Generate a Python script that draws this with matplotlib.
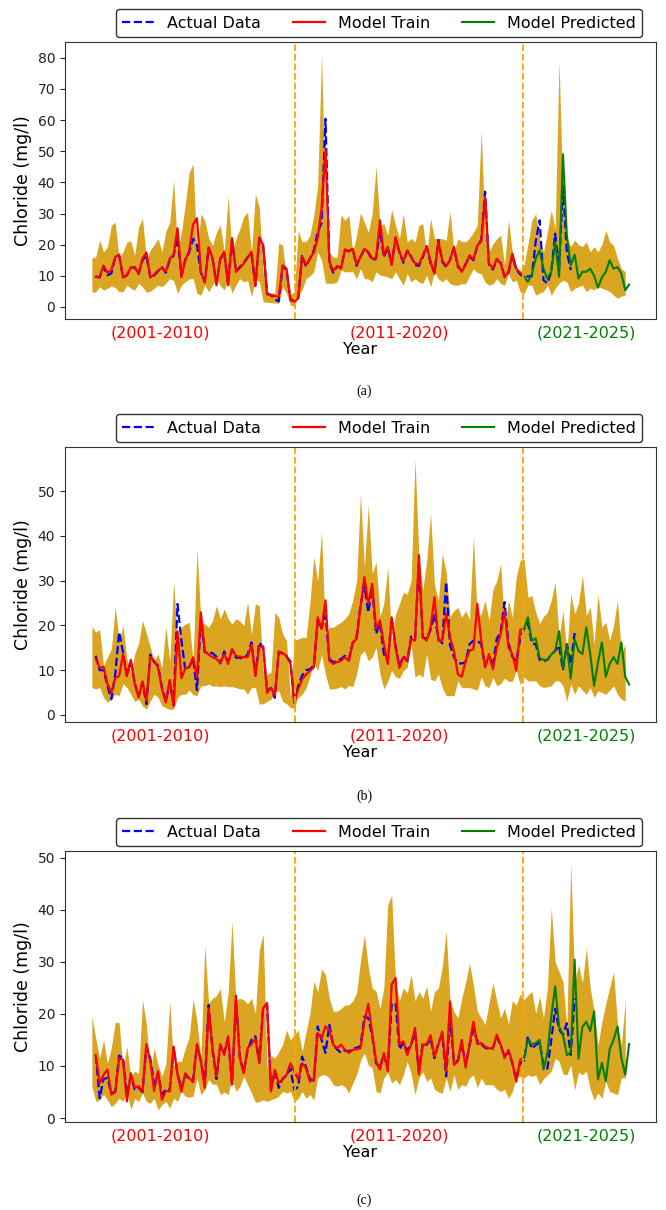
import numpy as np
import matplotlib
matplotlib.use("Agg")
import matplotlib.pyplot as plt

# ---- Panel (a) ----
actual_a = [9.7, 9.5, 12.8, 10.2, 10.8, 15.8, 16.5, 9.6, 10.2, 12.5, 12.8, 10.6, 15.0, 16.5, 9.5, 10.1, 11.5, 12.8, 11.0, 15.0,
            16.5, 22.5, 10.0, 15.2, 17.5, 21.9, 19.8, 11.0, 8.2, 19.0, 15.4, 7.5, 15.5, 17.2, 7.4, 21.5, 11.6, 12.8, 14.2, 16.0,
            17.0, 7.0, 21.5, 19.5, 4.4, 3.8, 2.5, 1.8, 13.0, 12.0, 2.5, 1.9, 2.8, 16.6, 13.0, 15.5, 18.2, 24.0, 27.0, 60.4,
            14.0, 11.0, 13.0, 12.7, 18.0, 18.0, 18.5, 13.2, 16.2, 18.5, 17.5, 15.0, 15.5, 24.5, 16.0, 19.0, 13.8, 22.0, 17.5, 14.2,
            18.0, 16.2, 13.5, 13.2, 16.0, 19.5, 14.0, 11.0, 21.5, 14.5, 12.8, 15.2, 19.0, 13.0, 11.6, 13.8, 16.2, 15.0, 19.5, 21.5,
            37.0, 13.5, 12.0, 15.0, 14.2, 9.8, 11.0, 16.6, 12.0, 10.5, 9.6, 9.8, 9.9, 21.0, 27.8, 8.6, 7.6, 11.3, 23.5, 12.3,
            38.9, 17.7, 11.9]
train_a = [9.7, 9.7, 13.3, 11.0, 11.8, 16.1, 16.8, 9.4, 10.2, 12.7, 12.6, 10.8, 15.5, 17.5, 9.6, 10.3, 11.8, 12.5, 11.4, 15.5,
           16.8, 25.3, 9.6, 15.0, 18.2, 26.5, 28.5, 11.3, 7.8, 19.1, 15.7, 7.0, 15.7, 17.7, 7.0, 22.1, 11.3, 12.5, 13.9, 15.8,
           17.7, 6.7, 22.4, 19.8, 4.0, 3.8, 3.5, 3.3, 13.4, 12.3, 2.2, 1.7, 2.8, 16.1, 13.4, 15.5, 17.5, 22.0, 31.5, 50.6,
           14.5, 11.6, 13.1, 12.3, 18.5, 17.7, 18.7, 13.6, 16.0, 18.7, 17.7, 15.5, 15.7, 27.8, 16.6, 19.3, 13.5, 22.4, 17.7, 14.7,
           18.2, 16.0, 14.0, 13.7, 16.5, 19.3, 14.5, 10.7, 21.1, 15.0, 13.1, 15.0, 19.3, 13.4, 11.3, 13.5, 16.6, 15.2, 19.8, 21.0,
           35.2, 14.0, 12.3, 15.5, 14.0, 9.5, 11.3, 17.1, 12.3, 11.0, 9.7]
pred_a = [9.7, 8.1, 10.5, 15.5, 18.2, 12.3, 9.1, 11.3, 20.9, 9.7, 49.0, 23.0, 13.4, 16.8, 9.1, 11.3, 11.3, 12.3, 10.0, 6.2,
          9.5, 11.3, 15.0, 12.3, 12.8, 10.7, 5.4, 7.2]
upper_a = [15.7, 16.1, 21.4, 17.7, 19.3, 26.2, 27.2, 15.5, 17.7, 20.9, 21.1, 16.6, 25.6, 28.5, 15.5, 18.2, 20.0, 21.9, 17.7, 24.3,
           27.2, 40.7, 17.7, 24.0, 33.0, 43.2, 45.9, 16.6, 29.9, 27.8, 22.0, 19.8, 24.0, 26.2, 17.7, 35.4, 17.7, 21.9, 25.0, 29.0,
           30.4, 17.7, 36.3, 32.0, 11.3, 4.5, 4.5, 4.5, 20.6, 19.8, 8.6, 4.0, 4.9, 24.6, 20.9, 21.0, 22.9, 29.4, 39.0, 81.0,
           30.0, 17.7, 16.0, 16.0, 29.6, 27.8, 29.4, 17.7, 23.0, 30.2, 27.2, 24.0, 30.0, 45.0, 26.2, 26.7, 23.0, 31.3, 26.2, 21.9,
           29.9, 20.9, 22.0, 20.9, 26.2, 26.7, 16.6, 28.3, 22.0, 22.0, 21.9, 21.4, 30.7, 17.7, 21.9, 21.0, 20.9, 22.1, 24.0, 26.2,
           56.5, 24.0, 17.7, 20.2, 21.9, 23.0, 13.5, 27.8, 17.7, 12.3, 11.3, 13.5, 20.0, 27.8, 29.9, 21.9, 17.7, 24.0, 31.0, 25.0,
           78.8, 35.0, 22.1, 19.4, 21.5, 20.0, 19.4, 20.9, 17.7, 19.4, 17.7, 20.0, 24.6, 20.9, 19.8, 15.5, 12.3, 11.3]
lower_a = [4.7, 4.9, 6.5, 5.4, 6.0, 6.8, 6.2, 4.9, 4.9, 7.0, 6.0, 5.4, 7.6, 6.5, 4.7, 5.1, 6.0, 7.0, 6.5, 7.6,
           9.1, 8.5, 4.4, 7.0, 8.1, 9.0, 9.1, 4.4, 3.8, 7.0, 4.9, 7.0, 9.1, 6.8, 5.5, 8.6, 4.5, 7.0, 9.1, 8.1,
           8.5, 3.3, 9.1, 8.1, 1.7, 1.5, 1.4, 1.3, 1.2, 6.5, 4.4, 0.6, 0.2, 3.3, 5.5, 9.1, 10.0, 11.3, 17.7, 15.0,
           7.6, 7.6, 7.6, 8.1, 11.8, 11.3, 11.3, 11.3, 9.1, 12.3, 9.1, 9.0, 8.1, 11.3, 10.2, 10.0, 9.6, 9.1, 11.3, 9.0,
           7.0, 10.7, 8.1, 9.1, 8.0, 7.6, 10.2, 6.5, 11.3, 9.0, 8.1, 9.1, 7.5, 7.0, 7.0, 7.5, 7.4, 10.0, 12.3, 11.0,
           10.7, 8.0, 7.0, 7.4, 9.1, 7.5, 7.0, 10.7, 8.1, 8.6, 4.9, 4.4, 7.0, 7.0, 3.8, 4.5, 4.9, 7.0, 3.8, 6.0,
           7.6, 8.6, 8.1, 4.9, 6.0, 6.5, 7.0, 4.9, 6.0, 5.5, 6.5, 6.0, 5.5, 5.0, 3.8, 2.8, 3.5, 3.8]

# ---- Panel (b) ----
actual_b = [13.2, 10.0, 10.0, 6.5, 3.5, 9.0, 18.5, 14.0, 8.7, 12.0, 7.2, 4.0, 7.3, 2.4, 13.5, 11.8, 11.0, 6.2, 3.0, 7.5,
            2.3, 24.8, 16.6, 10.0, 10.8, 12.5, 5.5, 21.5, 14.0, 14.0, 13.8, 13.0, 11.5, 14.2, 11.8, 14.5, 12.8, 12.8, 12.5, 13.5,
            16.2, 9.0, 16.2, 15.0, 5.5, 6.0, 3.8, 14.0, 13.8, 13.0, 12.0, 2.8, 6.5, 8.8, 10.0, 10.2, 11.0, 21.0, 19.5, 22.2,
            12.5, 11.8, 12.0, 12.5, 13.2, 12.4, 16.0, 17.5, 24.5, 28.9, 22.9, 28.5, 18.1, 20.5, 13.6, 12.0, 21.5, 15.5, 10.8, 13.2,
            12.0, 17.5, 17.0, 33.4, 17.3, 17.0, 19.0, 22.6, 17.0, 16.0, 29.7, 15.5, 12.9, 11.5, 11.5, 11.8, 15.8, 16.6, 16.6, 15.8,
            11.0, 13.2, 11.0, 17.0, 18.5, 25.2, 16.0, 13.0, 12.0, 17.0, 19.2, 20.5, 16.0, 15.8, 12.3, 12.0, 12.3, 13.5, 14.3, 15.5,
            10.0, 15.8, 11.4, 18.3]
train_b = [12.5, 10.6, 10.7, 7.0, 5.0, 8.2, 8.7, 13.5, 8.7, 12.3, 6.9, 3.9, 7.5, 3.1, 13.0, 12.1, 10.6, 5.8, 2.8, 7.8,
           2.0, 18.7, 8.2, 10.4, 10.6, 12.9, 8.2, 22.9, 14.3, 13.5, 12.9, 12.5, 11.7, 13.6, 11.4, 14.7, 13.2, 13.0, 12.9, 12.9,
           15.7, 8.7, 15.3, 15.3, 4.9, 6.1, 4.3, 14.2, 13.8, 13.2, 11.4, 2.9, 5.8, 8.0, 9.0, 9.9, 10.6, 21.8, 19.2, 25.6,
           12.1, 11.4, 11.8, 12.1, 12.9, 12.1, 16.2, 17.0, 24.0, 30.8, 24.8, 29.3, 19.2, 21.1, 15.8, 11.4, 21.8, 15.1, 10.5, 12.9,
           12.1, 17.0, 16.6, 35.7, 17.3, 16.6, 19.6, 26.3, 16.6, 16.6, 22.6, 17.3, 14.3, 9.1, 8.5, 12.1, 14.3, 14.7, 24.8, 16.6,
           10.6, 13.6, 10.2, 15.0, 18.1, 23.3, 15.1, 13.6, 9.9, 19.0, 19.2]
pred_b = [19.2, 21.8, 16.6, 17.1, 12.7, 12.3, 12.3, 13.5, 14.3, 18.7, 10.3, 15.8, 8.1, 16.9, 14.3, 13.6, 19.6, 13.6, 6.5, 11.7,
          16.2, 8.5, 11.4, 12.9, 11.4, 16.2, 8.5, 6.8]
upper_b = [19.7, 18.5, 19.1, 11.0, 12.9, 14.7, 24.1, 16.6, 20.0, 12.5, 9.5, 13.6, 16.0, 21.1, 18.2, 15.2, 12.0, 13.6, 10.5, 19.6,
           12.0, 29.8, 16.6, 19.6, 20.3, 20.7, 12.0, 37.1, 21.1, 20.3, 19.6, 21.1, 24.4, 21.5, 23.7, 21.5, 20.3, 21.5, 21.0, 20.0,
           25.2, 18.0, 24.8, 24.4, 9.9, 9.1, 9.5, 22.9, 21.8, 18.1, 16.6, 3.9, 16.6, 17.0, 17.3, 17.3, 25.0, 35.3, 30.0, 40.9,
           18.0, 19.6, 19.6, 20.2, 20.7, 21.5, 22.6, 25.6, 30.0, 49.5, 33.0, 46.9, 31.5, 34.2, 22.0, 25.0, 33.0, 16.6, 22.6, 24.8,
           27.4, 27.0, 30.0, 57.1, 35.3, 28.0, 34.5, 45.1, 29.0, 25.6, 36.0, 32.0, 22.0, 23.3, 24.0, 21.8, 23.3, 21.3, 39.8, 21.8,
           22.6, 25.6, 21.1, 28.0, 30.0, 33.8, 19.6, 25.6, 21.8, 30.8, 34.5, 34.9, 26.3, 26.7, 23.0, 20.4, 22.0, 22.9, 25.6, 29.7,
           17.3, 23.3, 13.6, 27.1, 22.6, 25.0, 31.2, 22.2, 24.1, 15.8, 26.9, 19.6, 20.7, 16.6, 20.0, 25.7, 13.6, 15.8]
lower_b = [6.1, 5.8, 6.1, 3.9, 2.8, 3.5, 4.6, 4.3, 7.0, 6.1, 4.6, 3.0, 3.5, 2.0, 1.3, 3.1, 4.6, 3.9, 2.0, 1.6,
           1.2, 1.3, 3.9, 4.6, 4.6, 5.5, 4.5, 4.3, 6.5, 6.5, 6.9, 6.4, 6.5, 6.3, 6.5, 6.3, 6.3, 6.1, 5.8, 5.8,
           4.6, 6.1, 6.1, 2.4, 2.5, 3.0, 3.5, 5.0, 5.4, 3.0, 2.5, 1.6, 1.6, 3.9, 4.6, 6.0, 8.5, 11.7, 9.9, 13.5,
           9.1, 5.8, 5.8, 6.0, 6.3, 5.8, 6.6, 6.3, 9.1, 13.5, 14.3, 12.1, 12.9, 15.1, 9.1, 5.8, 7.5, 9.9, 8.5, 8.2,
           9.9, 10.6, 15.8, 8.4, 9.1, 8.4, 13.6, 8.0, 7.6, 9.1, 6.1, 4.3, 4.3, 4.3, 7.6, 6.1, 6.1, 6.1, 5.8, 5.5,
           8.5, 6.5, 6.1, 8.4, 6.5, 7.0, 8.2, 7.5, 7.5, 9.9, 6.8, 8.4, 7.6, 7.6, 7.6, 6.5, 6.1, 6.3, 6.5, 7.6,
           7.6, 6.5, 3.1, 6.9, 4.6, 6.5, 5.5, 4.6, 6.1, 3.9, 5.4, 5.0, 4.6, 5.5, 6.5, 4.6, 3.5, 3.1]

# ---- Panel (c) ----
actual_c = [12.0, 3.8, 7.5, 7.7, 4.8, 5.0, 12.0, 11.5, 4.5, 8.0, 5.5, 5.8, 5.0, 13.5, 11.5, 6.5, 8.5, 4.5, 5.5, 5.5,
            13.5, 8.5, 5.8, 8.3, 7.5, 7.2, 14.0, 11.0, 6.5, 21.7, 13.0, 7.5, 14.0, 12.5, 15.5, 6.5, 22.5, 11.8, 8.8, 13.0,
            15.0, 15.7, 10.8, 21.3, 21.7, 5.5, 9.0, 5.8, 7.6, 8.2, 9.5, 5.4, 6.0, 11.8, 9.8, 7.5, 7.2, 17.6, 15.0, 12.5,
            17.9, 14.0, 13.2, 12.5, 13.0, 12.8, 13.3, 13.5, 13.8, 19.5, 19.2, 15.8, 10.5, 9.8, 12.2, 9.5, 21.7, 22.1, 13.2, 14.5,
            13.0, 14.0, 16.5, 9.0, 14.5, 14.0, 15.2, 11.5, 14.5, 16.0, 8.0, 19.2, 10.8, 11.0, 14.2, 10.2, 14.0, 17.0, 14.8, 14.2,
            13.5, 13.2, 13.5, 15.5, 14.0, 11.8, 12.8, 10.5, 7.5, 10.5, 11.0, 15.7, 13.3, 14.0, 14.5, 10.2, 9.5, 15.0, 21.0, 17.0,
            16.0, 18.2, 12.1, 23.0]
train_c = [12.1, 6.7, 8.3, 9.3, 4.5, 5.0, 11.5, 11.2, 3.2, 8.6, 5.8, 6.1, 5.1, 14.2, 10.9, 5.2, 9.0, 3.5, 5.2, 5.1,
           13.7, 8.3, 5.1, 8.6, 7.7, 6.9, 14.2, 10.9, 5.8, 21.1, 13.4, 8.0, 14.2, 12.1, 15.7, 6.4, 23.5, 11.5, 8.6, 13.4,
           14.2, 15.2, 10.5, 21.1, 22.1, 5.1, 9.3, 6.7, 7.4, 8.3, 10.5, 9.0, 7.4, 10.5, 9.6, 7.0, 7.4, 16.3, 15.3, 17.6,
           16.9, 14.1, 13.4, 14.1, 13.1, 12.5, 13.1, 13.2, 13.4, 18.5, 21.9, 16.3, 10.9, 9.3, 12.5, 9.0, 25.6, 26.9, 14.1, 14.7,
           12.1, 14.1, 17.3, 8.4, 14.1, 14.1, 15.9, 11.8, 14.1, 16.6, 9.0, 22.4, 10.2, 10.9, 15.0, 9.7, 14.1, 18.5, 14.2, 14.4,
           13.7, 13.4, 13.3, 16.0, 14.1, 11.5, 13.1, 10.7, 7.0, 11.2, 11.5]
pred_c = [11.5, 15.0, 14.1, 14.4, 15.0, 9.3, 12.5, 19.5, 25.3, 17.6, 16.0, 12.1, 12.5, 30.4, 11.4, 17.5, 18.5, 16.7, 20.5, 7.4,
          10.6, 7.1, 13.2, 15.0, 17.6, 11.5, 8.3, 14.2]
upper_c = [19.5, 15.3, 11.5, 15.0, 10.5, 13.5, 18.4, 18.3, 9.5, 13.7, 8.0, 9.0, 8.5, 22.7, 18.0, 9.0, 13.4, 10.2, 8.0, 10.4,
           22.4, 10.0, 10.9, 10.9, 13.4, 15.5, 22.9, 18.5, 11.5, 33.1, 22.0, 23.0, 23.5, 24.8, 18.5, 24.0, 37.7, 22.5, 23.0, 22.7,
           21.9, 23.0, 20.0, 32.3, 35.3, 9.5, 12.0, 11.5, 12.7, 14.1, 16.9, 15.0, 16.0, 16.9, 12.8, 16.5, 20.0, 26.2, 24.3, 28.6,
           27.5, 23.0, 20.5, 20.5, 21.0, 21.7, 21.7, 22.5, 24.0, 30.1, 35.2, 29.0, 25.0, 24.3, 21.0, 25.0, 40.9, 42.8, 26.0, 22.5,
           25.0, 24.0, 27.5, 22.5, 24.3, 23.0, 25.3, 20.5, 24.3, 24.9, 29.0, 35.9, 22.5, 20.5, 19.2, 23.0, 26.0, 29.7, 25.5, 20.5,
           19.2, 17.9, 22.0, 25.9, 22.5, 19.2, 21.1, 18.0, 22.5, 21.7, 23.8, 22.7, 23.6, 24.3, 20.1, 23.3, 19.2, 25.0, 40.3, 30.0,
           28.1, 26.2, 17.5, 48.9, 26.0, 29.4, 26.0, 32.6, 25.0, 20.5, 14.0, 18.5, 22.0, 25.0, 28.1, 18.0, 14.0, 22.7]
lower_c = [6.1, 3.2, 3.5, 4.5, 3.5, 2.2, 2.8, 3.8, 3.2, 5.1, 1.6, 3.8, 3.2, 4.8, 3.2, 2.8, 3.8, 1.6, 2.6, 3.2,
           1.9, 3.8, 3.2, 5.1, 4.2, 4.0, 4.2, 7.7, 4.5, 5.5, 7.4, 6.5, 6.5, 4.5, 5.0, 4.5, 7.7, 5.1, 6.0, 8.0,
           6.4, 4.8, 3.0, 3.2, 3.5, 3.2, 3.5, 3.8, 4.2, 5.1, 4.8, 5.1, 3.2, 3.8, 5.1, 3.8, 4.5, 3.5, 7.7, 8.3,
           8.3, 7.7, 6.4, 6.1, 6.4, 6.0, 4.8, 6.7, 8.3, 11.0, 12.5, 10.2, 9.6, 5.1, 4.8, 7.7, 8.8, 6.7, 7.4, 6.4,
           8.3, 10.9, 8.5, 4.5, 7.7, 8.9, 7.0, 7.7, 5.5, 5.0, 4.8, 7.7, 5.1, 8.3, 5.5, 6.4, 6.1, 7.7, 8.3, 5.8,
           7.7, 6.4, 6.4, 6.4, 5.5, 5.1, 5.5, 3.8, 5.1, 7.7, 8.0, 7.7, 8.3, 8.0, 8.3, 6.4, 7.5, 8.3, 9.0, 11.5,
           10.9, 8.5, 8.3, 10.2, 5.4, 8.8, 8.3, 9.0, 5.5, 3.5, 4.8, 3.8, 7.0, 5.1, 4.8, 4.5, 7.7, 7.7]

periodos = ["(2001-2010)", "(2011-2020)", "(2021-2025)"]
periodo_color = ["red", "red", "green"]
periodo_x = [17.7, 79.1, 126.9]      # centro de cada etiqueta (indice de muestra)
cortes = [52.3, 110.8]               # cambios de periodo
ticks_a = [0, 10, 20, 30, 40, 50, 60, 70, 80]
ticks_bc = [0, 10, 20, 30, 40, 50]
letras = ["(a)", "(b)", "(c)"]


def panel(ax, actual, train, pred, upper, lower, yticks):
    xb = np.arange(len(upper))
    ax.fill_between(xb, lower, upper, color="goldenrod", lw=0)
    ax.plot(np.arange(1, len(actual) + 1), actual, "b--", lw=1.6, label="Actual Data")
    ax.plot(np.arange(1, len(train) + 1), train, "r-", lw=1.6, label="Model Train")
    ax.plot(np.arange(len(train), len(train) + len(pred)), pred, "g-", lw=1.5, label="Model Predicted")
    for c in cortes:
        ax.axvline(c, color="orange", ls="--", lw=1.3)
    ax.set_xticks([])
    ax.set_yticks(yticks)
    ax.tick_params(axis="y", labelsize=10, colors="#222222")
    for s in ax.spines.values():
        s.set_color("#333333")
    ax.set_ylabel("Chloride (mg/l)", fontsize=12.5)
    ax.set_xlabel("Year", fontsize=11.5)
    ax.xaxis.set_label_coords(0.5, -0.085)
    for t, col, xp in zip(periodos, periodo_color, periodo_x):
        ax.text(xp, -0.05, t, color=col, fontsize=11.5, ha="center", va="center",
                transform=ax.get_xaxis_transform())
    ax.legend(loc="lower right", bbox_to_anchor=(0.976, 1.018), borderaxespad=0, ncol=3,
              fontsize=11.5, edgecolor="#333333", framealpha=1)


fig = plt.figure(figsize=(6.66, 12.1), dpi=100)
ax1 = fig.add_axes([0.0976, 0.7364, 0.8874, 0.2289])
ax2 = fig.add_axes([0.0976, 0.4033, 0.8874, 0.2273])
ax3 = fig.add_axes([0.0976, 0.0727, 0.8874, 0.2240])

panel(ax1, actual_a, train_a, pred_a, upper_a, lower_a, ticks_a)
panel(ax2, actual_b, train_b, pred_b, upper_b, lower_b, ticks_bc)
panel(ax3, actual_c, train_c, pred_c, upper_c, lower_c, ticks_bc)

for letra, yy in zip(letras, [0.677, 0.342, 0.0083]):
    fig.text(0.5465, yy, letra, fontsize=10, family="Liberation Serif", ha="center", va="center")

fig.savefig("out.png", dpi=100)
